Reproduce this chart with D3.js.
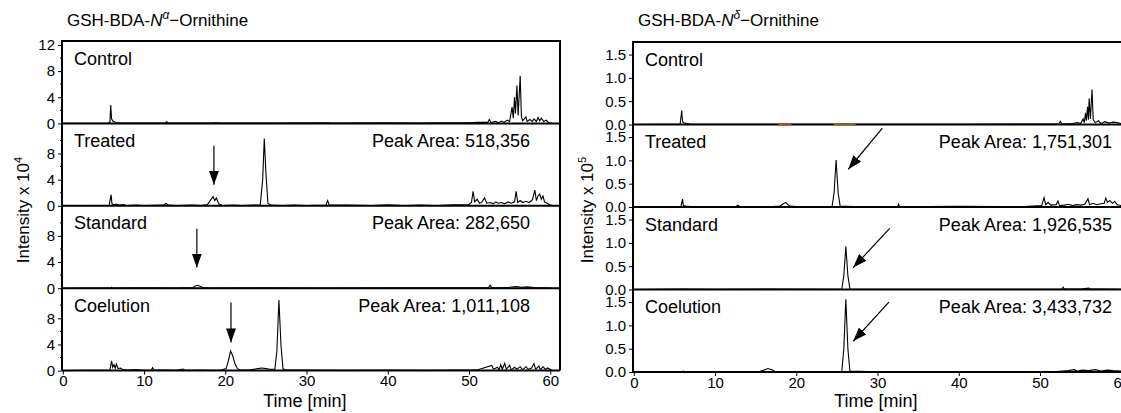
<!DOCTYPE html>
<html>
<head>
<meta charset="utf-8">
<script src="https://cdn.jsdelivr.net/npm/d3@7"></script>
<style>
  body { margin: 0; background: #fff; }
  text { font-family: Arial, "Liberation Sans", sans-serif; }
</style>
</head>
<body>
<div id="chart"></div>
<script>
// chromatogram data, [time (min), intensity]
var rowNames = ['Control', 'Treated', 'Standard', 'Coelution'];
var xTicks = [0, 10, 20, 30, 40, 50, 60];

var leftPeakAreas = [null, '518,356', '282,650', '1,011,108'];
var rightPeakAreas = [null, '1,751,301', '1,926,535', '3,433,732'];

var leftYTicks = [[0, 4, 8, 12], [0, 4, 8], [0, 4, 8], [0, 4, 8]];
var leftYMinor = [2, 6, 10];
var rightYTicks = [0, 0.5, 1.0, 1.5];

// x 10^4
var leftControl = [[0,0],[5.6,0.05],[5.8,0.2],[5.9,2.8],[6.0,0.7],[6.15,0.35],[6.4,0.2],[6.8,0.1],[7.5,0.05],[9,0.05],[12.6,0.05],[12.8,0.25],[13,0.05],[18,0.05],[18.8,0.1],[19.5,0.05],[25,0.05],[32.6,0.1],[33,0.05],[40,0.08],[44,0.05],[46,0.1],[48,0.08],[50,0.1],[51,0.15],[52.3,0.15],[52.5,0.6],[52.7,0.15],[53.3,0.3],[53.6,0.1],[54,0.35],[54.3,0.15],[54.7,0.5],[55.0,0.3],[55.3,2.5],[55.45,0.8],[55.6,4.0],[55.72,1.5],[55.9,5.8],[56.05,1.2],[56.3,7.3],[56.45,1.0],[56.6,0.4],[57.0,1.0],[57.15,0.3],[57.5,0.6],[57.8,0.3],[58.0,0.7],[58.3,0.3],[58.5,0.9],[58.7,0.4],[58.9,0.8],[59.2,0.3],[59.5,0.5],[59.8,0.1],[60.2,0.05]];
var leftTreated = [[0,0],[5.7,0.05],[5.95,1.7],[6.05,0.3],[6.3,0.15],[6.6,0.25],[6.9,0.1],[7.5,0.2],[7.8,0.05],[9,0.1],[10,0.05],[12.4,0.1],[12.7,0.35],[13,0.1],[14,0.05],[16,0.1],[17,0.05],[17.8,0.2],[18.2,0.9],[18.5,1.4],[18.7,0.8],[18.9,1.2],[19.2,0.3],[19.6,0.05],[21,0.1],[22,0.05],[23.5,0.1],[24.3,0.1],[24.6,4],[24.8,10.3],[25.0,5],[25.25,0.4],[25.6,0.1],[27,0.05],[28.5,0.1],[30,0.05],[32.4,0.1],[32.6,0.8],[32.8,0.1],[35,0.1],[38,0.05],[40,0.15],[42,0.05],[44,0.1],[46,0.05],[48,0.15],[50,0.2],[50.3,0.5],[50.5,2.2],[50.7,0.6],[51.0,1.0],[51.3,0.4],[51.6,0.6],[51.9,1.2],[52.2,0.4],[52.6,0.5],[53.0,0.3],[53.3,0.6],[53.6,0.4],[54.0,0.5],[54.4,0.3],[54.8,0.6],[55.2,0.4],[55.6,0.6],[55.8,2.2],[56.0,0.5],[56.3,0.8],[56.6,0.5],[57.0,0.7],[57.4,0.5],[57.8,0.9],[58.1,2.4],[58.3,0.8],[58.5,1.5],[58.7,1.8],[58.9,1.0],[59.1,1.5],[59.3,0.6],[59.6,0.4],[59.9,0.2],[60.2,0.05]];
var leftStandard = [[0,0],[5.9,0.05],[6.0,0.15],[6.1,0.02],[10,0.05],[14,0.03],[16.0,0.1],[16.3,0.35],[16.6,0.45],[16.9,0.3],[17.2,0.1],[18,0.03],[25,0.05],[32,0.03],[40,0.05],[48,0.05],[52.4,0.1],[52.6,0.45],[52.8,0.1],[54,0.08],[55,0.15],[55.8,0.25],[56.5,0.15],[57.2,0.2],[58,0.1],[59,0.08],[60.2,0.03]];
var leftCoelution = [[0,0],[5.8,0.1],[6.0,1.5],[6.15,0.5],[6.3,0.9],[6.45,0.4],[6.6,1.0],[6.8,0.3],[7.1,0.4],[7.4,0.15],[8,0.1],[9,0.15],[10,0.05],[10.9,0.1],[11.05,0.45],[11.2,0.1],[12.5,0.1],[14,0.05],[14.8,0.25],[15.1,0.05],[17,0.1],[18.5,0.05],[19.5,0.1],[20.1,0.3],[20.4,1.6],[20.65,3.0],[20.9,2.3],[21.2,1.0],[21.5,0.3],[21.8,0.1],[23,0.1],[24,0.3],[24.5,0.4],[25,0.3],[25.5,0.2],[26.1,0.2],[26.35,3],[26.6,10.8],[26.85,4],[27.1,0.3],[27.4,0.1],[30,0.1],[35,0.05],[40,0.1],[45,0.05],[48,0.1],[51,0.1],[52.8,0.8],[53.0,0.2],[53.5,0.5],[53.7,0.1],[53.9,0.9],[54.1,0.2],[54.4,1.1],[54.6,0.2],[55.0,0.8],[55.2,0.1],[55.6,0.5],[55.9,0.2],[56.3,0.6],[56.6,0.1],[57,0.6],[57.3,0.2],[57.7,0.4],[58,1.1],[58.2,0.2],[58.6,0.7],[58.8,0.1],[59.1,0.6],[59.4,0.2],[59.7,0.4],[60.2,0.05]];

// x 10^5
var rightControl = [[0,0],[5.7,0.01],[5.9,0.3],[6.0,0.06],[6.2,0.03],[6.6,0.02],[7,0.005],[20,0.005],[40,0.005],[50,0.01],[52.3,0.01],[52.5,0.07],[52.7,0.01],[54,0.02],[54.6,0.04],[55.0,0.02],[55.3,0.12],[55.45,0.04],[55.6,0.25],[55.7,0.08],[55.85,0.38],[55.95,0.1],[56.05,0.56],[56.2,0.12],[56.4,0.75],[56.55,0.1],[56.8,0.04],[57.2,0.08],[57.5,0.02],[58,0.06],[58.5,0.03],[59,0.05],[59.5,0.04],[60,0.02],[61,0.01]];
var rightControlRed = [[17.8,0],[19.4,0]];
var rightControlOlive = [[24.6,0],[27.3,0]];
var rightTreated = [[0,0],[5.8,0.01],[6.0,0.17],[6.1,0.03],[6.4,0.02],[7,0.01],[9,0.01],[12.6,0.01],[12.8,0.04],[13,0.01],[17,0.01],[18.0,0.02],[18.4,0.07],[18.7,0.1],[18.9,0.06],[19.2,0.02],[20,0.01],[24.4,0.01],[24.65,0.3],[24.9,1.01],[25.15,0.3],[25.4,0.02],[27,0.01],[30,0.01],[32.5,0.01],[32.6,0.06],[32.7,0.01],[36,0.01],[40,0.015],[45,0.01],[48,0.01],[50.2,0.03],[50.5,0.2],[50.7,0.05],[51.0,0.1],[51.3,0.04],[52.0,0.05],[52.2,0.13],[52.4,0.03],[53,0.04],[53.5,0.06],[54,0.03],[54.5,0.05],[55,0.04],[55.5,0.06],[55.9,0.18],[56.1,0.05],[56.5,0.08],[57,0.05],[57.5,0.07],[57.9,0.08],[58.1,0.19],[58.3,0.1],[58.6,0.14],[58.9,0.08],[59.2,0.12],[59.5,0.05],[60,0.03],[61,0.01]];
var rightStandard = [[0,0],[6.0,0.01],[10,0.005],[16.5,0.01],[25.6,0.005],[25.85,0.3],[26.1,0.92],[26.35,0.3],[26.6,0.01],[30,0.005],[40,0.005],[50,0.005],[52.7,0.01],[52.85,0.05],[53.0,0.01],[55,0.01],[56,0.03],[56.2,0.01],[58,0.01],[61,0.005]];
var rightCoelution = [[0,0],[5.9,0.005],[6.1,0.02],[6.3,0.005],[9,0.005],[12,0.01],[15.5,0.01],[16.0,0.04],[16.5,0.075],[17.0,0.05],[17.4,0.01],[20,0.005],[25.6,0.01],[25.85,0.5],[26.1,1.56],[26.35,0.5],[26.6,0.02],[30,0.005],[40,0.005],[48,0.005],[52,0.01],[53.5,0.03],[54.2,0.05],[54.6,0.02],[55.2,0.04],[56,0.03],[56.8,0.05],[57.5,0.02],[58.3,0.04],[59,0.03],[60,0.02],[61,0.005]];

// arrows: [tail, tip] in data units, per row
var leftArrows = [null, [[18.6, 9.2], [18.6, 3.2]], [[16.5, 9.1], [16.5, 3.15]], [[20.7, 10.4], [20.7, 4.3]]];
var rightArrows = [null, [[30.6, 1.69], [26.4, 0.81]], [[31.5, 1.31], [27.0, 0.47]], [[31.4, 1.5], [27.0, 0.66]]];

var w = 1121, h = 413;

var svg = d3.select('#chart').append('svg')
  .attr('width', w).attr('height', h);

svg.append('defs').append('marker')
  .attr('id', 'head')
  .attr('viewBox', '0 0 14 10')
  .attr('refX', 14).attr('refY', 5)
  .attr('markerUnits', 'userSpaceOnUse')
  .attr('markerWidth', 14).attr('markerHeight', 10)
  .attr('orient', 'auto')
  .append('path').attr('d', 'M0,0L14,5L0,10Z').attr('fill', '#000');

function drawPanel(opt) {
  var x = d3.scaleLinear().domain([-0.1, 61.2]).range([opt.left, opt.left + 498]);
  var rowH = opt.rowH;
  var g = svg.append('g');

  opt.series.forEach(function(data, i) {
    var top = opt.top + i * rowH;
    var y = d3.scaleLinear().domain(opt.yDomain).range([top + rowH, top]);

    // y axis
    var yAxis = d3.axisLeft(y).tickValues(opt.yTicks[i]).tickSize(4).tickPadding(3)
      .tickFormat(opt.yFormat);
    var ga = g.append('g').attr('transform', 'translate(' + opt.left + ',0)').call(yAxis);
    ga.select('.domain').remove();
    ga.selectAll('text').attr('font-size', 15).attr('font-family', 'Arial, "Liberation Sans", sans-serif');
    if (opt.yMinor) {
      g.append('g').selectAll('line').data(opt.yMinor).enter().append('line')
        .attr('x1', opt.left - 2).attr('x2', opt.left)
        .attr('y1', d => y(d)).attr('y2', d => y(d))
        .attr('stroke', '#000');
    }

    // trace
    var line = d3.line().x(d => x(d[0])).y(d => y(d[1]));
    g.append('path').datum(data)
      .attr('d', line).attr('fill', 'none')
      .attr('stroke', '#000').attr('stroke-width', 1.1);

    // zero line / separator
    g.append('line')
      .attr('x1', opt.left).attr('x2', opt.left + 498)
      .attr('y1', y(0)).attr('y2', y(0))
      .attr('stroke', '#000').attr('stroke-width', 2);

    if (i === 0 && opt.extra) {
      opt.extra.forEach(function(e) {
        g.append('path').datum(e.data).attr('d', line)
          .attr('fill', 'none').attr('stroke', e.color).attr('stroke-width', 2);
      });
    }

    g.append('text')
      .attr('x', opt.left + 12).attr('y', top + 23.5)
      .attr('font-size', 18).text(rowNames[i]);

    if (opt.areas[i]) {
      g.append('text')
        .attr('x', opt.areaRight).attr('y', top + 23.5)
        .attr('text-anchor', 'end')
        .attr('font-size', 18).text('Peak Area: ' + opt.areas[i]);
    }

    var a = opt.arrows[i];
    if (a) {
      g.append('line')
        .attr('x1', x(a[0][0])).attr('y1', y(a[0][1]))
        .attr('x2', x(a[1][0])).attr('y2', y(a[1][1]))
        .attr('stroke', '#000').attr('stroke-width', 1.2)
        .attr('marker-end', 'url(#head)');
    }
  });

  var bottom = opt.top + 4 * rowH;

  // frame
  g.append('path')
    .attr('d', 'M' + opt.left + ',' + bottom + 'V' + opt.top + 'H' + (opt.left + 498) + 'V' + bottom)
    .attr('fill', 'none').attr('stroke', '#000').attr('stroke-width', 2);

  // x axis
  var xa = g.append('g').attr('transform', 'translate(0,' + bottom + ')')
    .call(d3.axisBottom(x).tickValues(xTicks).tickSize(4).tickPadding(1));
  xa.select('.domain').remove();
  xa.selectAll('text').attr('font-size', 15).attr('font-family', 'Arial, "Liberation Sans", sans-serif');

  g.append('text')
    .attr('x', x(29.8)).attr('y', 407)
    .attr('text-anchor', 'middle').attr('font-size', 18)
    .text('Time [min]');

  var yt = g.append('text')
    .attr('transform', 'translate(' + opt.yTitleX + ',210) rotate(-90)')
    .attr('text-anchor', 'middle').attr('font-size', 17);
  yt.append('tspan').text('Intensity x 10');
  yt.append('tspan').attr('dy', -7).attr('font-size', 11).text(opt.exp);

  var tt = g.append('text')
    .attr('x', opt.titleX).attr('y', 26)
    .attr('font-size', 17)
    .attr('font-family', '"Noto Sans CJK JP", sans-serif');
  tt.append('tspan').text('GSH-BDA-');
  tt.append('tspan').attr('font-style', 'italic').text('N');
  tt.append('tspan').attr('dy', -7).attr('font-size', 12).attr('font-style', 'italic').text(opt.greek);
  tt.append('tspan').attr('dy', 7).text('\u2212Ornithine');
}

drawPanel({
  left: 62, top: 41, rowH: 82.4,
  yDomain: [0, 12.6], yTicks: leftYTicks, yMinor: leftYMinor,
  yFormat: d3.format('d'),
  series: [leftControl, leftTreated, leftStandard, leftCoelution],
  areas: leftPeakAreas, areaRight: 530, arrows: leftArrows,
  yTitleX: 29, exp: '4', titleX: 67, greek: '\u03b1'
});

drawPanel({
  left: 633, top: 42, rowH: 82.5,
  yDomain: [0, 1.77], yTicks: rightYTicks.map(() => rightYTicks), yMinor: null,
  yFormat: d3.format('.1f'),
  series: [rightControl, rightTreated, rightStandard, rightCoelution],
  extra: [{data: rightControlRed, color: '#c8432f'}, {data: rightControlOlive, color: '#8a6d1c'}],
  areas: rightPeakAreas, areaRight: 1112, arrows: rightArrows,
  yTitleX: 593, exp: '5', titleX: 638, greek: '\u03b4'
});
</script>
</body>
</html>
